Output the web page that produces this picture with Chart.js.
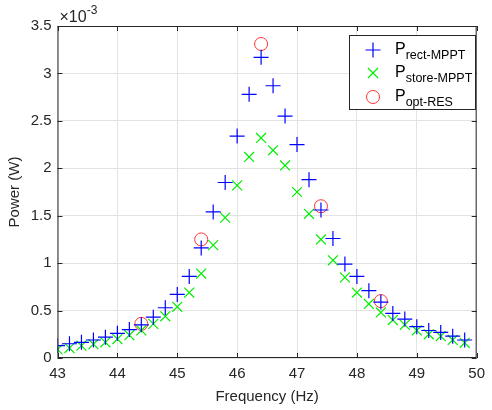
<!DOCTYPE html>
<html>
<head>
<meta charset="utf-8">
<script src="https://cdn.jsdelivr.net/npm/chart.js@4"></script>
<style>
  html, body { margin: 0; padding: 0; background: #fff; }
  #wrap { width: 492px; height: 410px; }
</style>
</head>
<body>
<div id="wrap"><canvas id="myChart" width="492" height="410"></canvas></div>
<script>
// Frequency points (Hz) for the two MPPT series
const freq = [43.0, 43.2, 43.4, 43.6, 43.8, 44.0, 44.2, 44.4, 44.6, 44.8,
  45.0, 45.2, 45.4, 45.6, 45.8, 46.0, 46.2, 46.4, 46.6, 46.8,
  47.0, 47.2, 47.4, 47.6, 47.8, 48.0, 48.2, 48.4, 48.6, 48.8,
  49.0, 49.2, 49.4, 49.6, 49.8];
// Power values, in units of 1e-3 W (as shown on the axis)
const pRect = [0.13, 0.15, 0.165, 0.19, 0.22, 0.26, 0.30, 0.35, 0.43, 0.53,
  0.67, 0.86, 1.16, 1.54, 1.85, 2.34, 2.78, 3.17, 2.87, 2.55,
  2.25, 1.88, 1.56, 1.26, 0.99, 0.86, 0.71, 0.59, 0.47, 0.41,
  0.33, 0.29, 0.27, 0.23, 0.19];
const pStore = [0.09, 0.105, 0.13, 0.145, 0.165, 0.20, 0.24, 0.29, 0.36, 0.44,
  0.54, 0.69, 0.89, 1.19, 1.48, 1.82, 2.12, 2.32, 2.19, 2.03,
  1.75, 1.52, 1.25, 1.03, 0.85, 0.69, 0.57, 0.48, 0.40, 0.35,
  0.29, 0.25, 0.23, 0.19, 0.16];
const optFreq = [44.4, 45.4, 46.4, 47.4, 48.4];
const pOpt = [0.36, 1.25, 3.31, 1.60, 0.60];
const xTicks = [43, 44, 45, 46, 47, 48, 49, 50];
const yTicks = [0, 0.5, 1, 1.5, 2, 2.5, 3, 3.5];
// legend labels: main letter + subscript
const legendLabels = [["P", "rect-MPPT"], ["P", "store-MPPT"], ["P", "opt-RES"]];

const axisColor = "#262626";
const FONT = "'Liberation Sans', Arial, sans-serif";

function toPoints(xs, ys) {
  return xs.map((x, i) => ({ x: x, y: ys[i] }));
}

// draws the box, inward ticks, exponent label and the legend (MATLAB look)
const matlabPlugin = {
  id: "matlabLook",
  afterDraw(chart) {
    const c = chart.ctx, a = chart.chartArea;
    const xs = chart.scales.x, ys = chart.scales.y;
    c.save();
    c.strokeStyle = axisColor;
    c.lineWidth = 1;
    c.strokeRect(a.left + 0.5, a.top + 0.5, a.right - a.left - 1, a.bottom - a.top - 1);
    c.beginPath();
    xTicks.forEach(t => {
      const px = Math.round(xs.getPixelForValue(t)) + 0.5;
      c.moveTo(px, a.bottom); c.lineTo(px, a.bottom - 5);
      c.moveTo(px, a.top); c.lineTo(px, a.top + 5);
    });
    yTicks.forEach(t => {
      const py = Math.round(ys.getPixelForValue(t)) + 0.5;
      c.moveTo(a.left, py); c.lineTo(a.left + 5, py);
      c.moveTo(a.right, py); c.lineTo(a.right - 5, py);
    });
    c.stroke();

    // x10^-3 label
    c.fillStyle = axisColor;
    c.textBaseline = "alphabetic";
    c.textAlign = "left";
    c.font = "16px " + FONT;
    c.fillText("\u00d710", a.left + 2, a.top - 4);
    const w = c.measureText("\u00d710").width;
    c.font = "12px " + FONT;
    c.fillText("-3", a.left + 2 + w, a.top - 12);

    // legend
    const lx = 349.5, ly = 35.5, lw = 126, lh = 74;
    c.fillStyle = "#fff";
    c.fillRect(lx, ly, lw, lh);
    c.strokeStyle = axisColor;
    c.strokeRect(lx, ly, lw, lh);
    const rows = [50, 73, 97];
    chart.data.datasets.forEach((ds, i) => {
      const cy = rows[i], cx = 373;
      c.strokeStyle = ds.borderColor;
      c.lineWidth = ds.borderWidth;
      c.beginPath();
      if (ds.pointStyle === "cross") {
        c.moveTo(cx - 7.5, cy); c.lineTo(cx + 7.5, cy);
        c.moveTo(cx, cy - 7.5); c.lineTo(cx, cy + 7.5);
      } else if (ds.pointStyle === "crossRot") {
        c.moveTo(cx - 5, cy - 5); c.lineTo(cx + 5, cy + 5);
        c.moveTo(cx - 5, cy + 5); c.lineTo(cx + 5, cy - 5);
      } else {
        c.arc(cx, cy, 6.5, 0, Math.PI * 2);
      }
      c.stroke();
      c.fillStyle = "#000";
      c.font = "16px " + FONT;
      c.fillText(legendLabels[i][0], 395, cy + 4);
      const pw = c.measureText(legendLabels[i][0]).width;
      c.font = "12.5px " + FONT;
      c.fillText(legendLabels[i][1], 395 + pw, cy + 9);
    });
    c.restore();
  }
};

const ctx = document.getElementById("myChart").getContext("2d");
const myChart = new Chart(ctx, {
  type: "scatter",
  data: {
    datasets: [
      {
        label: "P rect-MPPT",
        data: toPoints(freq, pRect),
        pointStyle: "cross",
        pointRadius: 7.5,
        borderColor: "#0000ff",
        backgroundColor: "#0000ff",
        borderWidth: 1.2,
      },
      {
        label: "P store-MPPT",
        data: toPoints(freq, pStore),
        pointStyle: "crossRot",
        pointRadius: 7,
        borderColor: "#00ee00",
        backgroundColor: "#00ee00",
        borderWidth: 1.2,
      },
      {
        label: "P opt-RES",
        data: toPoints(optFreq, pOpt),
        pointStyle: "circle",
        pointRadius: 6.5,
        borderColor: "#ff3333",
        backgroundColor: "rgba(0,0,0,0)",
        borderWidth: 1,
      },
    ],
  },
  options: {
    responsive: false,
    animation: false,
    events: [],
    layout: { padding: { left: 0, right: 7, top: 26, bottom: 0 } },
    plugins: { legend: { display: false }, tooltip: { enabled: false } },
    scales: {
      x: {
        type: "linear",
        min: 43, max: 50,
        afterBuildTicks: (s) => { s.ticks = xTicks.map(v => ({ value: v })); },
        afterFit: (s) => { s.height = 52; },
        ticks: { color: axisColor, padding: 7, maxRotation: 0, font: { family: FONT, size: 15 } },
        grid: { color: "#e3e3e3", drawTicks: false },
        border: { display: false },
        title: {
          display: true, text: "Frequency (Hz)", color: axisColor,
          font: { family: FONT, size: 15 }, padding: { top: 0, bottom: 4 },
        },
      },
      y: {
        min: 0, max: 3.5,
        afterBuildTicks: (s) => { s.ticks = yTicks.map(v => ({ value: v })); },
        afterFit: (s) => { s.width = 57.5; },
        ticks: { color: axisColor, padding: 6, font: { family: FONT, size: 15 },
          callback: (v) => String(Math.round(v * 10) / 10) },
        grid: { color: "#e3e3e3", drawTicks: false },
        border: { display: false },
        title: {
          display: true, text: "Power (W)", color: axisColor,
          font: { family: FONT, size: 15 }, padding: { top: 6, bottom: 0 },
        },
      },
    },
  },
  plugins: [matlabPlugin],
});
</script>
</body>
</html>
